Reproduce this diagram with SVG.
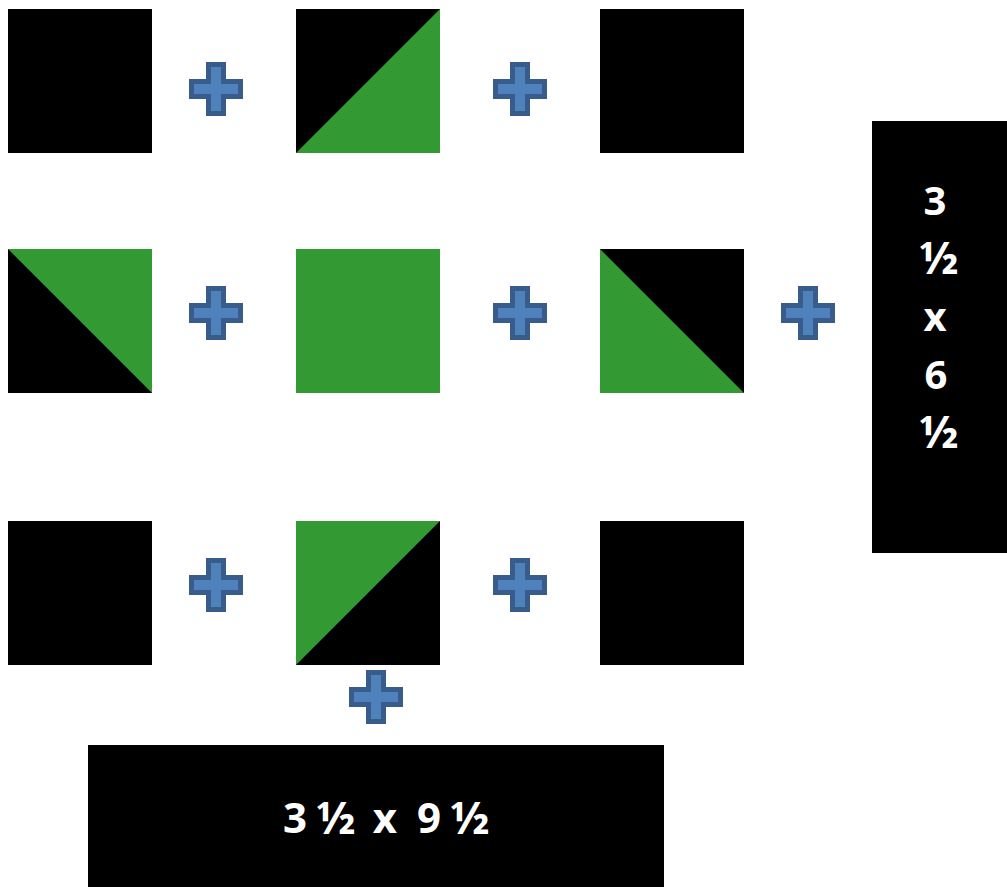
<svg xmlns="http://www.w3.org/2000/svg" width="1007" height="887" viewBox="0 0 1007 887">
<style>
.blk{fill:#000}
.grn{fill:#339933}
.plus{fill:#4F81BD;stroke:#385D8A;stroke-width:5;stroke-linejoin:miter}
.lbl{font-family:"Open Sans","Noto Sans","DejaVu Sans",sans-serif;font-weight:bold;fill:#fff;text-anchor:middle}
.frac{font-size:45px}
</style>
<defs>
<path id="plus" class="plus" d="M-7.5,-24.5 H7.5 V-7.5 H24.5 V7.5 H7.5 V24.5 H-7.5 V7.5 H-24.5 V-7.5 H-7.5 Z"/>
</defs>
<rect width="1007" height="887" fill="#fff"/>
<g id="r1c1"><rect class="blk" x="8" y="9" width="144" height="144"/></g>
<g id="r1c2"><rect class="blk" x="296" y="9" width="144" height="144"/><polygon class="grn" points="296,153 440,9 440,153"/></g>
<g id="r1c3"><rect class="blk" x="600" y="9" width="144" height="144"/></g>
<g id="r2c1"><rect class="blk" x="8" y="249" width="144" height="144"/><polygon class="grn" points="8,249 152,249 152,393"/></g>
<g id="r2c2"><rect class="grn" x="296" y="249" width="144" height="144"/></g>
<g id="r2c3"><rect class="blk" x="600" y="249" width="144" height="144"/><polygon class="grn" points="600,249 744,393 600,393"/></g>
<g id="r3c1"><rect class="blk" x="8" y="521" width="144" height="144"/></g>
<g id="r3c2"><rect class="blk" x="296" y="521" width="144" height="144"/><polygon class="grn" points="296,521 440,521 296,665"/></g>
<g id="r3c3"><rect class="blk" x="600" y="521" width="144" height="144"/></g>
<g id="side"><rect class="blk" x="872" y="121" width="135" height="432"/>
<text class="lbl" font-size="40"><tspan x="935" y="215">3</tspan><tspan class="frac" x="939" y="274">½</tspan><tspan x="935" y="331">x</tspan><tspan x="936" y="389">6</tspan><tspan class="frac" x="939" y="448">½</tspan></text></g>
<g id="bottom"><rect class="blk" x="88" y="745" width="576" height="142"/>
<text class="lbl" font-size="42"><tspan x="295" y="833">3</tspan><tspan class="frac" x="336" y="834">½</tspan><tspan x="385" y="833">x</tspan><tspan x="429" y="833">9</tspan><tspan class="frac" x="470" y="834">½</tspan></text></g>
<g id="connectors">
<use href="#plus" x="216" y="89"/>
<use href="#plus" x="520" y="89"/>
<use href="#plus" x="216" y="313"/>
<use href="#plus" x="520" y="313"/>
<use href="#plus" x="808" y="313"/>
<use href="#plus" x="216" y="585"/>
<use href="#plus" x="520" y="585"/>
<use href="#plus" x="376" y="697"/>
</g>
</svg>
